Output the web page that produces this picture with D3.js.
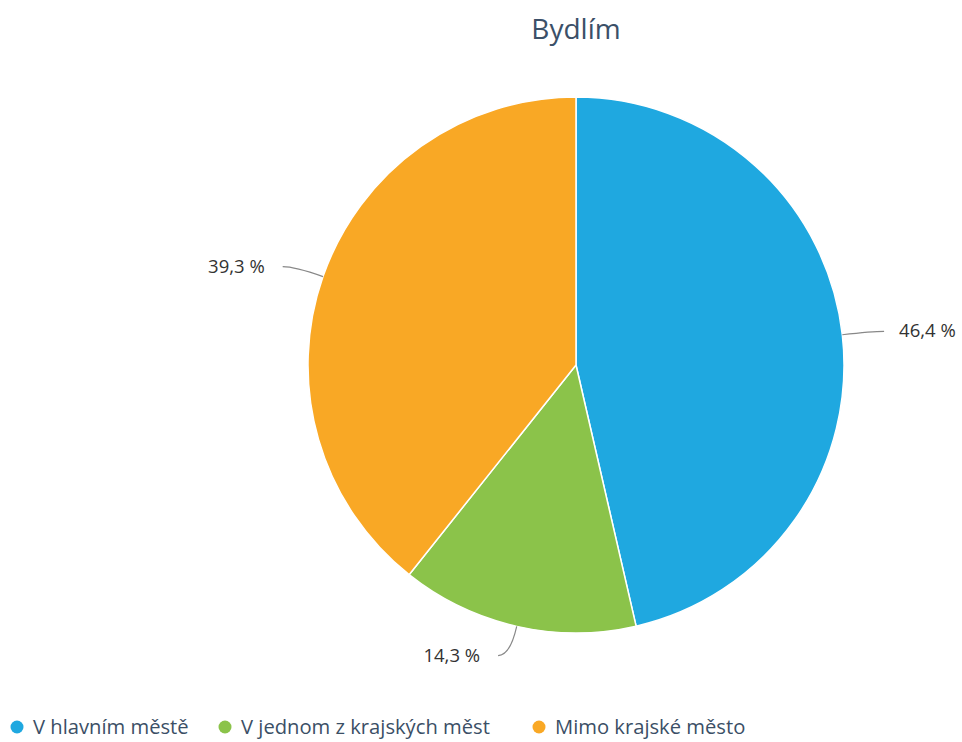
<!DOCTYPE html>
<html>
<head>
<meta charset="utf-8">
<script src="https://cdn.jsdelivr.net/npm/d3@7/dist/d3.min.js"></script>
<style>
  html, body { margin: 0; padding: 0; background: #fff; }
  svg { display: block; }
</style>
</head>
<body>
<svg id="chart" width="962" height="742"></svg>
<script>
// Where respondents live (share of answers, %)
const title = "Bydlím";
const categories = ["V hlavním městě", "V jednom z krajských měst", "Mimo krajské město"];
const values = [46.4, 14.3, 39.3];
const colors = ["#1fa8e0", "#8bc34a", "#f9a825"];

const width = 962, height = 742;
const cx = 576, cy = 365, radius = 268;
const labelDistance = 30;
const font = "'Open Sans', 'Noto Sans', sans-serif";

const svg = d3.select("#chart");

svg.append("text")
  .attr("x", cx)
  .attr("y", 39)
  .attr("text-anchor", "middle")
  .attr("font-family", font)
  .attr("font-size", 28)
  .attr("fill", "#3b5068")
  .text(title);

const pie = d3.pie().sort(null).value(d => d)(values);
const arc = d3.arc().innerRadius(0).outerRadius(radius);

const g = svg.append("g").attr("transform", `translate(${cx},${cy})`);

g.selectAll("path.slice")
  .data(pie)
  .join("path")
  .attr("class", "slice")
  .attr("d", arc)
  .attr("fill", (d, i) => colors[i])
  .attr("stroke", "#fff")
  .attr("stroke-width", 1.5)
  .attr("stroke-linejoin", "round");

// Data labels with connector lines
const fmt = v => d3.format(".1f")(v).replace(".", ",") + " %";
pie.forEach((d, i) => {
  const a = (d.startAngle + d.endAngle) / 2;
  const sx = Math.sin(a), sy = -Math.cos(a);
  const x0 = radius * sx, y0 = radius * sy;
  const x1 = (radius + labelDistance) * sx, y1 = (radius + labelDistance) * sy;
  const side = sx >= 0 ? 1 : -1;
  const x2 = x1 + side * 12;
  const path = d3.path();
  path.moveTo(x0, y0);
  path.quadraticCurveTo(x1, y1, x2, y1);
  g.append("path")
    .attr("d", path.toString())
    .attr("fill", "none")
    .attr("stroke", "#888")
    .attr("stroke-width", 1.2);
  g.append("text")
    .attr("x", x2 + side * (side > 0 ? 15 : 18))
    .attr("y", y1 + 6)
    .attr("text-anchor", side > 0 ? "start" : "end")
    .attr("font-family", font)
    .attr("font-size", 18.5)
    .attr("fill", "#333")
    .text(fmt(values[i]));
});

// Legend along the bottom
const legendX = [10, 218, 532];
const legend = svg.append("g").attr("transform", "translate(0,727)");
categories.forEach((c, i) => {
  const item = legend.append("g").attr("transform", `translate(${legendX[i]},0)`);
  item.append("circle")
    .attr("cx", 7).attr("cy", 0).attr("r", 6.5)
    .attr("fill", colors[i]);
  item.append("text")
    .attr("x", 23).attr("y", 7)
    .attr("font-family", font)
    .attr("font-size", 20.2)
    .attr("fill", "#3b4f66")
    .text(c);
});
</script>
</body>
</html>
